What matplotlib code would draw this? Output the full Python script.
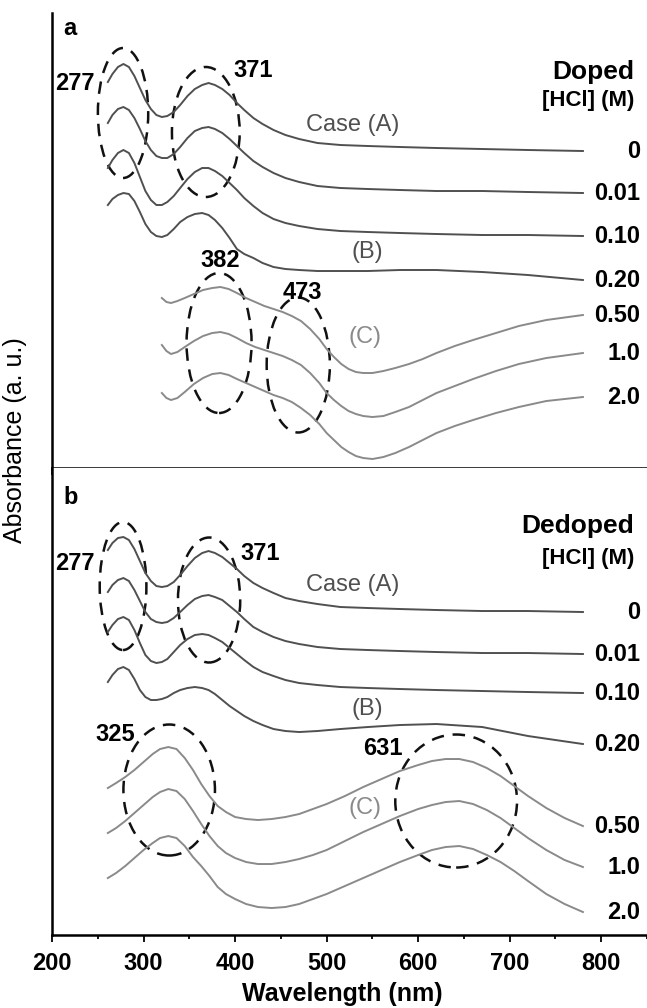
import matplotlib
matplotlib.use("Agg")
import matplotlib.pyplot as plt
from matplotlib.patches import Ellipse

plt.rcParams['font.family'] = ['Liberation Sans', 'DejaVu Sans']

# wavelength grids (nm)
wl_a = [261, 266, 272, 278, 284, 290, 296, 302, 308, 314, 320, 326, 333, 340, 348, 356, 364, 371,
        378, 386, 394, 402, 410, 420, 430, 442, 455, 470, 490, 515, 545, 580, 620, 670, 720, 780]
wl_c = [320, 325, 330, 337, 345, 355, 365, 375, 384, 393, 402, 412, 422, 432, 442, 452, 462, 472,
        482, 492, 500, 508, 516, 524, 532, 540, 550, 562, 575, 590, 605, 620, 640, 660, 685, 710, 740, 780]
wl_bc = [261, 270, 280, 290, 300, 310, 318, 327, 336, 345, 354, 363, 372, 381, 390, 400, 412, 425, 440,
         455, 470, 485, 500, 520, 540, 560, 580, 600, 615, 630, 645, 660, 675, 690, 705, 720, 740, 760, 780]

conc = ['0', '0.01', '0.10', '0.20', '0.50', '1.0', '2.0']

# (a) doped, stacked absorbance (a. u.)
doped_0 = [3.86, 3.94, 4.01, 4.04, 4.01, 3.92, 3.80, 3.68, 3.59, 3.53, 3.51, 3.52, 3.56, 3.63, 3.72, 3.79, 3.83, 3.85,
           3.83, 3.79, 3.73, 3.65, 3.58, 3.50, 3.44, 3.38, 3.33, 3.29, 3.25, 3.23, 3.22, 3.21, 3.20, 3.19, 3.18, 3.17]
doped_001 = [3.45, 3.53, 3.59, 3.61, 3.58, 3.50, 3.39, 3.27, 3.18, 3.12, 3.10, 3.10, 3.14, 3.21, 3.30, 3.37, 3.40, 3.41,
             3.39, 3.35, 3.29, 3.22, 3.15, 3.07, 3.01, 2.95, 2.90, 2.86, 2.82, 2.80, 2.79, 2.78, 2.77, 2.77, 2.76, 2.75]
doped_010 = [3.00, 3.08, 3.15, 3.18, 3.15, 3.05, 2.91, 2.77, 2.68, 2.63, 2.63, 2.66, 2.72, 2.80, 2.89, 2.96, 3.00, 3.00,
             2.97, 2.92, 2.85, 2.78, 2.70, 2.62, 2.55, 2.49, 2.45, 2.42, 2.39, 2.37, 2.36, 2.35, 2.34, 2.33, 2.33, 2.32]
doped_020 = [2.63, 2.69, 2.73, 2.75, 2.74, 2.67, 2.56, 2.44, 2.36, 2.32, 2.31, 2.33, 2.39, 2.46, 2.51, 2.54, 2.55, 2.53,
             2.48, 2.40, 2.30, 2.19, 2.14, 2.10, 2.05, 2.01, 1.99, 1.98, 1.97, 1.97, 1.97, 1.98, 1.98, 1.96, 1.93, 1.88]
doped_050 = [1.70, 1.66, 1.65, 1.67, 1.70, 1.74, 1.78, 1.80, 1.81, 1.79, 1.75, 1.70, 1.66, 1.62, 1.59, 1.56, 1.52, 1.47,
             1.39, 1.29, 1.19, 1.11, 1.04, 0.99, 0.96, 0.95, 0.95, 0.97, 1.00, 1.04, 1.09, 1.15, 1.22, 1.28, 1.35, 1.42, 1.48, 1.53]
doped_10 = [1.23, 1.17, 1.14, 1.16, 1.21, 1.27, 1.32, 1.35, 1.36, 1.34, 1.30, 1.25, 1.21, 1.18, 1.15, 1.12, 1.08, 1.03,
            0.95, 0.85, 0.75, 0.68, 0.62, 0.57, 0.54, 0.52, 0.51, 0.52, 0.56, 0.61, 0.68, 0.75, 0.82, 0.89, 0.97, 1.04, 1.10, 1.15]
doped_20 = [0.75, 0.70, 0.68, 0.70, 0.76, 0.84, 0.90, 0.94, 0.95, 0.93, 0.89, 0.85, 0.81, 0.77, 0.73, 0.70, 0.66, 0.60,
            0.53, 0.44, 0.35, 0.28, 0.21, 0.16, 0.12, 0.10, 0.09, 0.11, 0.15, 0.21, 0.28, 0.35, 0.42, 0.48, 0.55, 0.61, 0.67, 0.71]

# (b) dedoped
dedoped_0 = [3.85, 3.92, 3.97, 3.98, 3.95, 3.86, 3.74, 3.62, 3.54, 3.49, 3.48, 3.49, 3.53, 3.60, 3.69, 3.77, 3.82, 3.84,
             3.82, 3.78, 3.72, 3.66, 3.59, 3.52, 3.47, 3.42, 3.37, 3.34, 3.31, 3.28, 3.27, 3.26, 3.25, 3.24, 3.24, 3.23]
dedoped_001 = [3.43, 3.50, 3.55, 3.57, 3.54, 3.45, 3.34, 3.23, 3.16, 3.13, 3.12, 3.13, 3.17, 3.23, 3.30, 3.36, 3.39, 3.40,
               3.38, 3.35, 3.29, 3.23, 3.16, 3.08, 3.03, 2.98, 2.94, 2.91, 2.88, 2.86, 2.85, 2.84, 2.83, 2.82, 2.82, 2.81]
dedoped_010 = [3.03, 3.10, 3.16, 3.18, 3.15, 3.05, 2.92, 2.80, 2.74, 2.72, 2.73, 2.76, 2.83, 2.90, 2.96, 3.00, 3.01, 3.00,
               2.97, 2.93, 2.87, 2.81, 2.75, 2.68, 2.63, 2.59, 2.55, 2.52, 2.50, 2.48, 2.47, 2.46, 2.45, 2.44, 2.43, 2.42]
dedoped_020 = [2.53, 2.60, 2.66, 2.68, 2.65, 2.56, 2.45, 2.38, 2.35, 2.35, 2.36, 2.38, 2.42, 2.45, 2.47, 2.48, 2.47, 2.45,
               2.41, 2.35, 2.29, 2.24, 2.19, 2.14, 2.10, 2.06, 2.04, 2.03, 2.04, 2.06, 2.08, 2.10, 2.11, 2.08, 1.99, 1.91]
dedoped_050 = [1.47, 1.52, 1.58, 1.65, 1.73, 1.81, 1.86, 1.88, 1.86, 1.77, 1.65, 1.51, 1.39, 1.29, 1.23, 1.18, 1.16, 1.15, 1.16,
               1.18, 1.21, 1.26, 1.31, 1.39, 1.48, 1.56, 1.64, 1.70, 1.74, 1.76, 1.76, 1.73, 1.67, 1.59, 1.49, 1.39, 1.27, 1.17, 1.09]
dedoped_10 = [1.02, 1.07, 1.14, 1.22, 1.30, 1.38, 1.43, 1.46, 1.44, 1.36, 1.24, 1.11, 0.99, 0.89, 0.82, 0.77, 0.73, 0.71, 0.71,
              0.73, 0.76, 0.80, 0.85, 0.94, 1.03, 1.11, 1.19, 1.26, 1.30, 1.33, 1.34, 1.31, 1.25, 1.17, 1.07, 0.97, 0.85, 0.75, 0.68]
dedoped_20 = [0.57, 0.62, 0.69, 0.77, 0.85, 0.92, 0.97, 0.99, 0.97, 0.89, 0.78, 0.69, 0.59, 0.48, 0.41, 0.36, 0.31, 0.28, 0.27,
              0.28, 0.31, 0.36, 0.41, 0.49, 0.57, 0.65, 0.73, 0.80, 0.85, 0.88, 0.89, 0.86, 0.80, 0.73, 0.64, 0.54, 0.41, 0.31, 0.23]

dark = '#505050'
light = '#8a8a8a'

fig = plt.figure(figsize=(6.47, 10.08), dpi=100)
ax_a = fig.add_axes([0.0804, 0.5357, 0.9196, 0.4514])
ax_b = fig.add_axes([0.0804, 0.0724, 0.9196, 0.4633])

panels = [
    (ax_a, [(wl_a, doped_0, dark), (wl_a, doped_001, dark), (wl_a, doped_010, dark),
            (wl_a, doped_020, dark), (wl_c, doped_050, light), (wl_c, doped_10, light),
            (wl_c, doped_20, light)], 4.55),
    (ax_b, [(wl_a, dedoped_0, dark), (wl_a, dedoped_001, dark), (wl_a, dedoped_010, dark),
            (wl_a, dedoped_020, dark), (wl_bc, dedoped_050, light), (wl_bc, dedoped_10, light),
            (wl_bc, dedoped_20, light)], 4.67),
]

for ax, curves, ytop in panels:
    for (x, y, c), lab in zip(curves, conc):
        ax.plot(x, y, color=c, lw=1.4, solid_joinstyle='round')
        ax.text(843, y[-1], lab, ha='right', va='center', fontsize=17, fontweight='bold')
    ax.set_xlim(200, 850)
    ax.set_ylim(0, ytop)
    for s in ['top', 'right']:
        ax.spines[s].set_visible(False)
    ax.spines['left'].set_linewidth(1.8)
    ax.spines['bottom'].set_linewidth(1.8)
    ax.set_yticks([])
    ax.set_xticks(range(200, 801, 100))
    ax.set_xticks(range(250, 851, 100), minor=True)
    ax.tick_params(axis='x', which='major', direction='out', length=5, width=1.3, pad=7,
                   labelsize=17)
    ax.tick_params(axis='x', which='minor', direction='out', length=3, width=1.3)
    for t in ax.get_xticklabels():
        t.set_fontweight('bold')

ax_a.tick_params(axis='x', labelbottom=False)

# dashed ellipses around the peaks: (wavelength, a.u., width nm, height a.u.)
ell_a = [(277.6, 3.55, 55, 1.30), (368, 3.36, 74, 1.30), (382.5, 1.25, 71, 1.40), (469, 1.03, 69, 1.35)]
ell_b = [(277.6, 3.49, 51, 1.28), (371.6, 3.35, 68, 1.25), (328, 1.45, 100, 1.31), (641.5, 1.34, 133, 1.33)]
for ax, ells in [(ax_a, ell_a), (ax_b, ell_b)]:
    for cx, cy, w, h in ells:
        ax.add_patch(Ellipse((cx, cy), w, h, fill=False, ec='#111111', lw=1.8,
                             ls=(0, (5, 3.5))))

bold = dict(fontsize=17, fontweight='bold', ha='center', va='center')
norm = dict(fontsize=17, ha='center', va='center')
ax_a.text(220, 4.40, 'a', **bold)
ax_a.text(225, 3.85, '277', **bold)
ax_a.text(420, 3.98, '371', **bold)
ax_a.text(384, 2.08, '382', **bold)
ax_a.text(473, 1.76, '473', **bold)
ax_a.text(528, 3.43, 'Case (A)', color=dark, **norm)
ax_a.text(544, 2.16, '(B)', color=dark, **norm)
ax_a.text(542, 1.31, '(C)', color=light, **norm)
ax_a.text(836, 3.96, 'Doped', ha='right', va='center', fontsize=19, fontweight='bold')
ax_a.text(836, 3.68, '[HCl] (M)', ha='right', va='center', fontsize=16, fontweight='bold')

ax_b.text(220, 4.38, 'b', **bold)
ax_b.text(225, 3.72, '277', **bold)
ax_b.text(427, 3.82, '371', **bold)
ax_b.text(269, 2.01, '325', **bold)
ax_b.text(561, 1.87, '631', **bold)
ax_b.text(528, 3.50, 'Case (A)', color=dark, **norm)
ax_b.text(544, 2.26, '(B)', color=dark, **norm)
ax_b.text(542, 1.27, '(C)', color=light, **norm)
ax_b.text(836, 4.09, 'Dedoped', ha='right', va='center', fontsize=19, fontweight='bold')
ax_b.text(836, 3.77, '[HCl] (M)', ha='right', va='center', fontsize=16, fontweight='bold')

fig.text(0.023, 0.563, 'Absorbance (a. u.)', rotation=90, ha='center', va='center', fontsize=18)
fig.text(0.529, 0.014, 'Wavelength (nm)', ha='center', va='center', fontsize=18, fontweight='bold')

fig.savefig('out.png', dpi=100)
